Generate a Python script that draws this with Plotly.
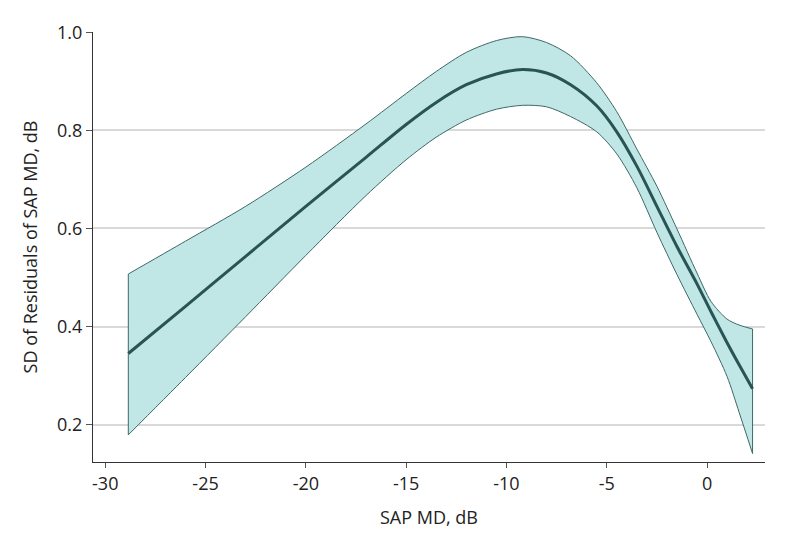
import plotly.graph_objects as go

# Data
sap_md = [-28.85, -26, -23, -20, -17, -15, -13.5, -12, -10.5, -9.2, -8, -6.8,
          -5.5, -4.5, -3.5, -2.5, -1.5, -0.5, 0.2, 1.0, 1.6, 2.27]
sd_fit = [0.345, 0.441, 0.543, 0.645, 0.745, 0.812, 0.857, 0.893, 0.915, 0.924, 0.917, 0.893,
          0.850, 0.797, 0.727, 0.645, 0.563, 0.487, 0.430, 0.367, 0.322, 0.273]
sd_upper = [0.507, 0.574, 0.645, 0.725, 0.813, 0.875, 0.920, 0.959, 0.983, 0.991, 0.979, 0.952,
            0.897, 0.838, 0.762, 0.686, 0.599, 0.509, 0.451, 0.415, 0.403, 0.395]
sd_lower = [0.179, 0.296, 0.420, 0.545, 0.667, 0.740, 0.786, 0.821, 0.843, 0.851, 0.848, 0.828,
            0.797, 0.752, 0.683, 0.592, 0.506, 0.425, 0.369, 0.298, 0.225, 0.141]

x_tick_vals = [-30, -25, -20, -15, -10, -5, 0]
x_tick_text = ["-30", "-25", "-20", "-15", "-10", "-5", "0"]
y_tick_vals = [0.2, 0.4, 0.6, 0.8, 1.0]
y_tick_text = ["0.2", "0.4", "0.6", "0.8", "1.0"]

band_fill = "rgb(192,230,230)"
band_edge = "rgb(62,104,104)"
fit_color = "rgb(40,84,84)"
FONT = "Open Sans"

fig = go.Figure()
fig.add_trace(go.Scatter(x=sap_md, y=sd_lower, mode="lines",
                         line=dict(color=band_edge, width=1, shape="spline", smoothing=0.8),
                         hoverinfo="skip", showlegend=False))
fig.add_trace(go.Scatter(x=sap_md, y=sd_upper, mode="lines", fill="tonexty",
                         fillcolor=band_fill,
                         line=dict(color=band_edge, width=1, shape="spline", smoothing=0.8),
                         hoverinfo="skip", showlegend=False))
# vertical closing edges of the band
for i in (0, -1):
    fig.add_trace(go.Scatter(x=[sap_md[i], sap_md[i]], y=[sd_lower[i], sd_upper[i]],
                             mode="lines", line=dict(color=band_edge, width=1),
                             hoverinfo="skip", showlegend=False))
fig.add_trace(go.Scatter(x=sap_md, y=sd_fit, mode="lines",
                         line=dict(color=fit_color, width=3, shape="spline", smoothing=0.8),
                         showlegend=False))

fig.update_layout(
    width=794, height=546,
    margin=dict(l=85, r=37, t=21, b=92),
    paper_bgcolor="white", plot_bgcolor="white",
    font=dict(family=FONT, size=18, color="#222222"),
    showlegend=False,
)
fig.update_xaxes(
    range=[-30.61, 2.89], tickvals=x_tick_vals, ticktext=x_tick_text,
    showgrid=False, zeroline=False,
    showline=True, linecolor="#333333", linewidth=1.2,
    ticks="outside", ticklen=5, tickcolor="#555555", tickwidth=1.2,
    tickfont=dict(family=FONT, size=18, color="#222222"),
    title=dict(text="SAP MD, dB", font=dict(family=FONT, size=18, color="#222222"), standoff=17),
)
fig.update_yaxes(
    range=[0.1237, 1.0005], tickvals=y_tick_vals, ticktext=y_tick_text,
    showgrid=True, gridcolor="#d9d9d9", gridwidth=1.5, zeroline=False,
    showline=True, linecolor="#333333", linewidth=1.2,
    ticks="outside", ticklen=6, tickcolor="#555555", tickwidth=1.2,
    tickfont=dict(family=FONT, size=18, color="#222222"),
    title=dict(text="SD of Residuals of SAP MD, dB", font=dict(family=FONT, size=18, color="#222222"), standoff=14),
)

fig.write_html("out.html")
